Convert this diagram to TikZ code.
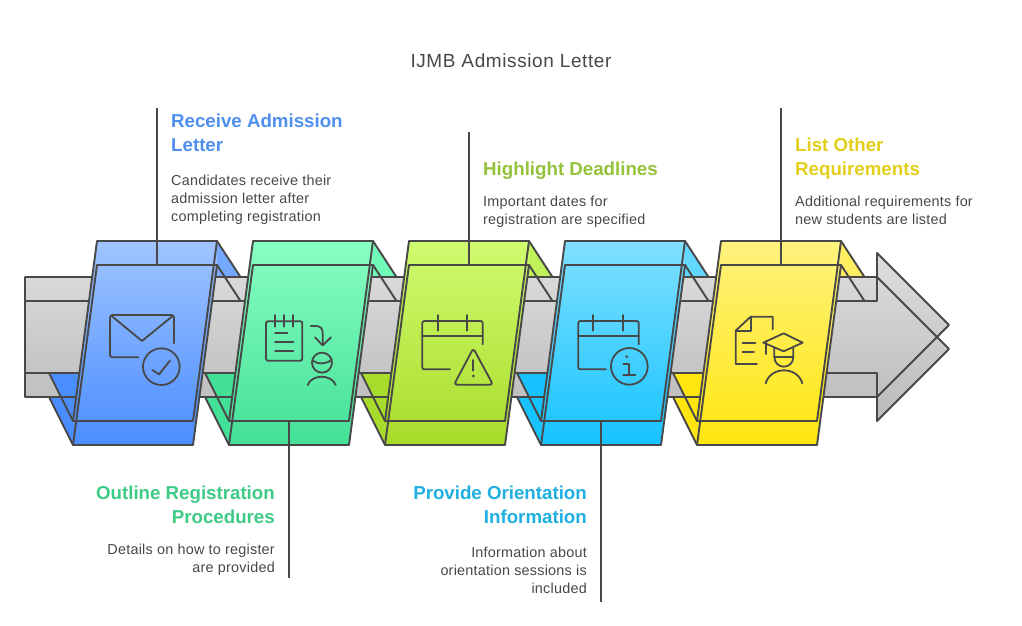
\documentclass[tikz,border=0pt]{standalone}
\usepackage{fontspec}
\setmainfont{Liberation Sans}
\newfontfamily\titlefont[LetterSpace=3.2]{Liberation Sans}
\newfontfamily\bodyfont[LetterSpace=1.6]{Liberation Sans}
\definecolor{ink}{HTML}{484848}
\definecolor{top1}{HTML}{A0C4FF}\definecolor{bot1}{HTML}{4A8DFF}\definecolor{tri1}{HTML}{74A9FF}\definecolor{head1}{HTML}{4F8FEE}
\definecolor{top2}{HTML}{88FFC2}\definecolor{bot2}{HTML}{43E097}\definecolor{tri2}{HTML}{70FBB8}\definecolor{head2}{HTML}{3ECB86}
\definecolor{top3}{HTML}{D0FB70}\definecolor{bot3}{HTML}{A8DC2A}\definecolor{tri3}{HTML}{BFF15A}\definecolor{head3}{HTML}{94C23A}
\definecolor{top4}{HTML}{80E0FF}\definecolor{bot4}{HTML}{16C3FF}\definecolor{tri4}{HTML}{62D8FF}\definecolor{head4}{HTML}{1FAFE0}
\definecolor{top5}{HTML}{FFF27E}\definecolor{bot5}{HTML}{FFE60F}\definecolor{tri5}{HTML}{FFEE60}\definecolor{head5}{HTML}{E3CF1A}
\tikzset{
  edge/.style={draw=ink,line width=1.9pt,line join=round},
  icon/.style={draw=ink,line width=1.8pt,line join=round,line cap=round},
  zoomA/.style={shift={(10,230)},x=0.33333pt,y=-0.33333pt},
  zoomB/.style={shift={(370,230)},x=0.33333pt,y=-0.33333pt},
  zoomC/.style={shift={(680,230)},x=0.33333pt,y=-0.33333pt},
  headtext/.style={inner sep=0pt,font=\fontsize{18.7}{24}\selectfont\bfseries},
  bodytext/.style={inner sep=0pt,text=ink,font=\bodyfont\fontsize{14.4}{18}\selectfont},
}
\begin{document}
\begin{tikzpicture}[x=1pt,y=-1pt]
\useasboundingbox (0,0) rectangle (1022,626);
\fill[white] (0,0) rectangle (1022,626);
% folds behind the arrow
\foreach \i/\dx in {1/0,2/156,3/312,4/468,5/624}{
  \fill[tri\i,shift={(\dx,0)}] (217,241) -- (240.5,277) -- (205,277) -- (205,241) -- cycle;
  \draw[edge,shift={(\dx,0)}] (217,241) -- (240.5,277);
}
% arrow fill
\path[top color=black!13,bottom color=black!27]
  (25,277) -- (877,277) -- (877,253) -- (949,325) -- (938,337) -- (949,349) -- (877,421) -- (877,397) -- (25,397) -- cycle;
% folds in front of the arrow's lower strip
\foreach \i/\dx in {1/0,2/156,3/312,4/468,5/624}{
  \fill[bot\i,shift={(\dx,0)}] (49,373) -- (61,397) -- (49,397) -- (73,445) -- (90,445) -- (90,373) -- cycle;
}
% arrow outlines
\draw[edge] (25,277) -- (877,277) -- (877,253) -- (949,325) -- (877,397) -- (877,373) -- (25,373) -- cycle;
\draw[edge] (25,301) -- (877,301) -- (877,277) -- (949,349) -- (877,421) -- (877,397) -- (25,397) -- cycle;
% cards
\foreach \i/\dx in {1/0,2/156,3/312,4/468,5/624}{
  \begin{scope}[shift={(\dx,0)}]
    \draw[edge] (217,265) -- (240.5,301);
    \draw[edge] (49,373) -- (73,421);
    \draw[edge] (49,397) -- (73,445);
    \path[top color=top\i,bottom color=bot\i]
      (97,241) -- (217,241) -- (217,265) -- (193,445) -- (73,445) -- (73,421) -- cycle;
    \draw[edge] (97,241) -- (217,241) -- (193,421) -- (73,421) -- cycle;
    \draw[edge] (97,265) -- (217,265) -- (193,445) -- (73,445) -- cycle;
  \end{scope}
}
% icon 1: envelope
\begin{scope}[zoomA]
  \draw[icon,rounded corners=2.5pt] (492,340) -- (492,255) -- (300,255) -- (300,382) -- (385,382);
  \draw[icon] (305,258) -- (396,333) -- (488,258);
  \draw[icon] (454,410) circle[radius=55];
  \draw[icon] (427,420) -- (447,433) -- (480,392);
% icon 2: notebook and person
  \draw[icon,rounded corners=2pt] (768,274) rectangle (877,392);
  \draw[icon] (795,255) -- (795,290) (822,255) -- (822,290) (850,255) -- (850,290);
  \draw[icon] (795,310) -- (832,310) (795,337) -- (850,337) (795,364) -- (850,364);
  \draw[icon] (902,288) -- (918,288) .. controls (930,288) and (938,295) .. (938,308) -- (938,346);
  \draw[icon] (915,322) -- (938,346) -- (963,322);
  \draw[icon] (936,398) circle[radius=30];
  \draw[icon] (908,392) .. controls (920,402) and (950,405) .. (965,388);
  \draw[icon] (893,465) .. controls (905,432) and (965,432) .. (977,465);
\end{scope}
% icon 3: calendar with warning
\begin{scope}[zoomB]
  \draw[icon,rounded corners=2pt] (338,343) -- (338,273) -- (157,273) -- (157,418) -- (240,418);
  \draw[icon] (157,319) -- (338,319);
  \draw[icon] (203,255) -- (203,302) (292,255) -- (292,302);
  \draw[icon,rounded corners=3pt] (310,355) -- (369,464) -- (252,464) -- cycle;
  \draw[icon] (310,390) -- (310,422);
  \fill[ink] (310,438) circle[radius=4.5];
% icon 4: calendar with info
  \draw[icon,rounded corners=2pt] (806,343) -- (806,273) -- (625,273) -- (625,418) -- (708,418);
  \draw[icon] (625,319) -- (806,319);
  \draw[icon] (670,255) -- (670,302) (760,255) -- (760,302);
  \draw[icon] (778,409) circle[radius=55];
  \fill[ink] (770,380) circle[radius=4.5];
  \draw[icon] (760,403) -- (778,403) -- (778,436) (760,436) -- (796,436);
\end{scope}
% icon 5: document and graduate
\begin{scope}[zoomC]
  \draw[icon] (231,402) -- (167,402) -- (167,302) -- (212,260) -- (278,260) -- (278,298);
  \draw[icon] (167,302) -- (212,302) -- (212,260);
  \draw[icon] (188,340) -- (226,340) (188,367) -- (222,367);
  \draw[icon] (250,338) -- (311,310) -- (368,338) -- (311,364) -- cycle;
  \draw[icon] (258,338) -- (258,372);
  \draw[icon] (283,355) -- (283,380) .. controls (283,420) and (340,420) .. (340,380) -- (340,355);
  \draw[icon] (283,380) -- (340,380);
  \draw[icon] (257,460) .. controls (272,408) and (352,408) .. (367,460);
\end{scope}
% connector anchors
\coordinate (c1) at (157,265); \coordinate (e1) at (157,108);
\coordinate (c2) at (289,421); \coordinate (e2) at (289,578);
\coordinate (c3) at (469,265); \coordinate (e3) at (469,132);
\coordinate (c4) at (601,421); \coordinate (e4) at (601,602);
\coordinate (c5) at (781,265); \coordinate (e5) at (781,108);
\foreach \i in {1,...,5} \draw[edge] (e\i) -- (c\i);
% texts
\node[inner sep=0pt,text=ink,font=\titlefont\fontsize{19}{24}\selectfont] (title) at (511,61) {IJMB Admission Letter};
\node[headtext,text=head1,anchor=north west,align=left] (h1) at (171,114) {Receive Admission\\Letter};
\node[bodytext,anchor=north west,align=left] (b1) at (171,175) {Candidates receive their\\admission letter after\\completing registration};
\node[headtext,text=head2,anchor=north east,align=right] (h2) at (275,486) {Outline Registration\\Procedures};
\node[bodytext,anchor=north east,align=right] (b2) at (275,544) {Details on how to register\\are provided};
\node[headtext,text=head3,anchor=north west,align=left] (h3) at (483,162) {Highlight Deadlines};
\node[bodytext,anchor=north west,align=left] (b3) at (483,196) {Important dates for\\registration are specified};
\node[headtext,text=head4,anchor=north east,align=right] (h4) at (587,486) {Provide Orientation\\Information};
\node[bodytext,anchor=north east,align=right] (b4) at (587,547) {Information about\\orientation sessions is\\included};
\node[headtext,text=head5,anchor=north west,align=left] (h5) at (795,138) {List Other\\Requirements};
\node[bodytext,anchor=north west,align=left] (b5) at (795,196) {Additional requirements for\\new students are listed};
\end{tikzpicture}
\end{document}
